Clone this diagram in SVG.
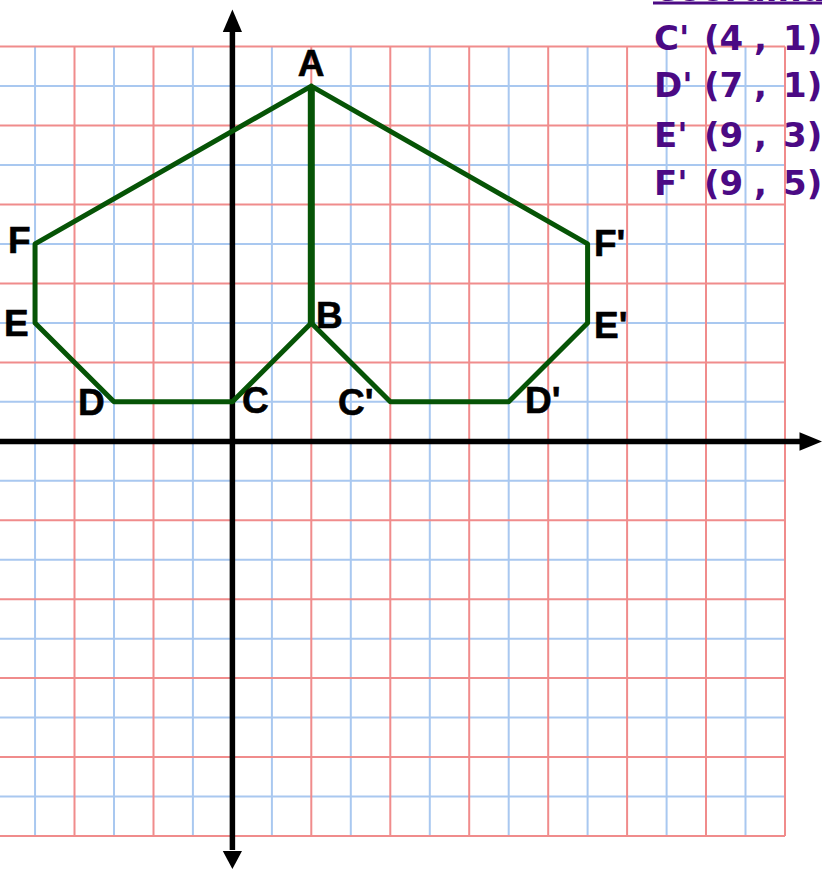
<svg xmlns="http://www.w3.org/2000/svg" width="822" height="870" viewBox="0 0 822 870">
<style>
.bl{stroke:#a9c8f0;stroke-width:2;fill:none}
.rd{stroke:#f08c8c;stroke-width:2;fill:none}
.ax{stroke:#000;stroke-width:5.5;fill:none}
.shape{stroke:#065406;stroke-width:5;fill:none;stroke-linejoin:round;stroke-linecap:round}
.lbl{font-family:"Liberation Sans",Arial,sans-serif;font-weight:bold;font-size:37px;fill:#000;stroke:#000;stroke-width:0.6}
.co{font-family:"DejaVu Sans","Liberation Sans",sans-serif;font-weight:bold;font-size:34px;fill:#4b0a84}
</style>
<rect width="822" height="870" fill="#fff"/>
<g id="grid">
<g class="bl">
<path d="M35.05,46.6V836 M114,46.6V836 M192.9,46.6V836 M271.9,46.6V836 M350.8,46.6V836 M429.8,46.6V836 M508.7,46.6V836 M587.6,46.6V836 M666.6,46.6V836 M745.5,46.6V836"/>
<path d="M0,86.1H785 M0,165H785 M0,243.9H785 M0,322.9H785 M0,401.8H785 M0,480.8H785 M0,559.7H785 M0,638.7H785 M0,717.6H785 M0,796.5H785"/>
</g>
<g class="rd">
<path d="M74.5,46.6V836 M153.5,46.6V836 M232.4,46.6V836 M311.3,46.6V836 M390.3,46.6V836 M469.2,46.6V836 M548.2,46.6V836 M627.1,46.6V836 M706,46.6V836 M785,46.6V836"/>
<path d="M0,46.6H785 M0,125.5H785 M0,204.5H785 M0,283.4H785 M0,362.4H785 M0,441.3H785 M0,520.2H785 M0,599.2H785 M0,678.1H785 M0,757.1H785 M0,836H785"/>
</g>
</g>
<g id="axes">
<path class="ax" d="M232.4,30V850"/>
<path class="ax" d="M0,441.5H802"/>
<polygon points="232.4,9.5 222.8,32 242,32" fill="#000"/>
<polygon points="232.4,869 222.8,851 242,851" fill="#000"/>
<polygon points="822,441.5 799.5,432.3 799.5,450.7" fill="#000"/>
</g>
<g id="connectors">
<polyline class="shape" points="311.3,86.1 35.05,243.9 35.05,322.9 114,401.8 232.4,401.8 311.3,322.9 390.3,401.8 508.7,401.8 587.6,322.9 587.6,243.9 311.3,86.1"/>
<line x1="311.3" y1="86.1" x2="311.3" y2="322.9" stroke="#065406" stroke-width="7"/>
</g>
<g id="labels">
<g id="A"><text class="lbl" x="311" y="76" text-anchor="middle">A</text></g>
<g id="B"><text class="lbl" x="316" y="328">B</text></g>
<g id="C"><text class="lbl" x="242" y="413">C</text></g>
<g id="D"><text class="lbl" x="78" y="415">D</text></g>
<g id="E"><text class="lbl" x="4" y="336">E</text></g>
<g id="F"><text class="lbl" x="8" y="253">F</text></g>
<g id="C2"><text class="lbl" x="338" y="415">C'</text></g>
<g id="D2"><text class="lbl" x="525" y="413">D'</text></g>
<g id="E2"><text class="lbl" x="594" y="338">E'</text></g>
<g id="F2"><text class="lbl" x="594" y="256">F'</text></g>
</g>
<g id="coords">
<text class="co" x="653" y="1">Coordinates</text>
<rect x="653" y="1.5" width="169" height="3" fill="#4b0a84"/>
<text class="co" y="50"><tspan x="654">C' </tspan><tspan x="704">(4 </tspan><tspan x="754">, </tspan><tspan x="783">1)</tspan></text>
<text class="co" y="97"><tspan x="654">D' </tspan><tspan x="704">(7 </tspan><tspan x="754">, </tspan><tspan x="783">1)</tspan></text>
<text class="co" y="147"><tspan x="654">E' </tspan><tspan x="704">(9 </tspan><tspan x="754">, </tspan><tspan x="783">3)</tspan></text>
<text class="co" y="195"><tspan x="654">F' </tspan><tspan x="704">(9 </tspan><tspan x="754">, </tspan><tspan x="783">5)</tspan></text>
</g>
</svg>
